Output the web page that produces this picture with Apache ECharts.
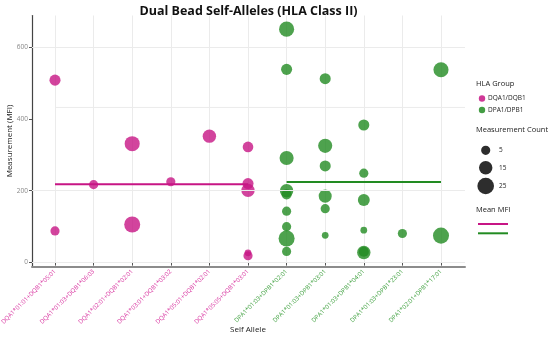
<!DOCTYPE html>
<html><head><meta charset="utf-8">
<script src="https://cdn.jsdelivr.net/npm/echarts@6/dist/echarts.min.js"></script>
<style>html,body{margin:0;padding:0;background:#fff}#c{width:550px;height:338px}</style>
</head><body><div id="c"></div>
<script>
// ---- data ----
const categories = [
  "DQA1*01:01+DQB1*05:01", "DQA1*01:03+DQB1*06:03", "DQA1*02:01+DQB1*02:01",
  "DQA1*03:01+DQB1*03:02", "DQA1*05:01+DQB1*02:01", "DQA1*05:05+DQB1*03:01",
  "DPA1*01:03+DPB1*02:01", "DPA1*01:03+DPB1*03:01", "DPA1*01:03+DPB1*04:01",
  "DPA1*01:03+DPB1*23:01", "DPA1*02:01+DPB1*17:01"
];
const categoryGroup = ["DQ","DQ","DQ","DQ","DQ","DQ","DP","DP","DP","DP","DP"];
const groupNames = ["DQA1/DQB1", "DPA1/DPB1"];

const dqCat   = [0, 0, 1, 2, 2, 3, 4, 5, 5, 5, 5, 5];
const dqMFI   = [508, 88, 217, 331, 106, 225, 352, 322, 220, 201, 27, 19];
const dqCount = [9, 5, 5, 20, 23, 5, 15, 8, 9, 15, 1, 5];

const dpCat   = [6, 6, 6, 6, 6, 6, 6, 6, 6, 7, 7, 7, 7, 7, 7, 8, 8, 8, 8, 8, 8, 9, 10, 10];
const dpMFI   = [650, 538, 291, 200, 190, 143, 100, 67, 31, 512, 325, 269, 185, 150, 76, 383, 249, 174, 90, 28, 30, 81, 537, 75];
const dpCount = [20, 9, 17, 15, 7, 5, 5, 23, 5, 9, 17, 9, 14, 5, 1, 9, 5, 11, 1, 15, 7, 5, 20, 23];

const meanDQ = 218;
const meanDP = 224;

const yTicks = [0, 200, 400, 600];
const gridY = [0, 200, 600];
const extraGridY = 432;
const sizeBreaks = [5, 15, 25];

// ---- style ----
const PINK = '#C71585', GREEN = '#228B22';
const FONT = 'Open Sans';
const sizeFn = c => 2 * Math.sqrt(9 + 2.4 * c);
const yMin = -11, yMax = 688;

const chart = echarts.init(document.getElementById('c'), null, {renderer: 'canvas'});

const pts = (cats, vals, cnts) => cats.map((c, i) => [categories[c], vals[i], cnts[i]]);

const legendX = 476;
const graphic = [
  {type:'text', x:248.5, y:11, style:{text:'Dual Bead Self-Alleles (HLA Class II)', font:'bold 12.5px "Open Sans"', fill:'#111', align:'center', verticalAlign:'middle'}},
  {type:'text', x:10, y:141, rotation:Math.PI/2, style:{text:'Measurement (MFI)', font:'8px "Open Sans"', fill:'#222', align:'center', verticalAlign:'middle'}},
  {type:'text', x:248, y:330, style:{text:'Self Allele', font:'8px "Open Sans"', fill:'#222', align:'center', verticalAlign:'middle'}},
  {type:'text', x:legendX, y:83.5, style:{text:'HLA Group', font:'7.5px "Open Sans"', fill:'#222', verticalAlign:'middle'}},
  {type:'circle', shape:{cx:482, cy:98.5, r:3.2}, style:{fill:PINK, opacity:0.85}},
  {type:'text', x:488, y:98.5, style:{text:groupNames[0], font:'6.5px "Open Sans"', fill:'#222', verticalAlign:'middle'}},
  {type:'circle', shape:{cx:482, cy:110, r:3.2}, style:{fill:GREEN, opacity:0.85}},
  {type:'text', x:488, y:110, style:{text:groupNames[1], font:'6.5px "Open Sans"', fill:'#222', verticalAlign:'middle'}},
  {type:'text', x:legendX, y:130, style:{text:'Measurement Count', font:'7.5px "Open Sans"', fill:'#222', verticalAlign:'middle'}},
  {type:'text', x:legendX, y:210, style:{text:'Mean MFI', font:'7.5px "Open Sans"', fill:'#222', verticalAlign:'middle'}},
  {type:'line', shape:{x1:478, y1:224, x2:508, y2:224}, style:{stroke:PINK, lineWidth:2}},
  {type:'line', shape:{x1:478, y1:233.3, x2:508, y2:233.3}, style:{stroke:GREEN, lineWidth:2}}
];
const sizeY = [150.3, 167.7, 186];
sizeBreaks.forEach((b, i) => {
  graphic.push({type:'circle', shape:{cx:485.7, cy:sizeY[i], r:sizeFn(b)/2}, style:{fill:'#222', opacity:0.95}});
  graphic.push({type:'text', x:499, y:sizeY[i], style:{text:String(b), font:'6.5px "Open Sans"', fill:'#222', verticalAlign:'middle'}});
});

const option = {
  animation: false,
  backgroundColor: '#fff',
  textStyle: {fontFamily: FONT},
  grid: [
    {left:32, right:85, top:15.5, bottom:71.5, containLabel:false, outerBoundsMode:'none'},
    {left:55, right:109, top:15.5, bottom:71.5, containLabel:false, outerBoundsMode:'none'}
  ],
  xAxis: [
    {gridIndex:0, type:'value', min:-0.6, max:10.6,
     axisLine:{show:true, onZero:false, lineStyle:{color:'#8c8c8c', width:2}},
     axisTick:{show:false}, axisLabel:{show:false}, splitLine:{show:false}},
    {gridIndex:1, type:'category', data:categories, boundaryGap:false,
     axisLine:{show:false}, axisTick:{show:true, length:3, lineStyle:{color:'#555'}},
     axisLabel:{rotate:45, fontSize:6.1, margin:4, fontFamily:FONT, hideOverlap:false,
       color:(v, i) => categoryGroup[i] === 'DQ' ? '#D8339F' : '#3FA03F'},
     splitLine:{show:true, lineStyle:{color:'#ebebeb', width:1}}}
  ],
  yAxis: [
    {gridIndex:0, type:'value', min:yMin, max:yMax,
     axisLine:{show:true, onZero:false, lineStyle:{color:'#444', width:1.2}},
     axisTick:{show:true, length:3, customValues:yTicks, lineStyle:{color:'#555'}},
     axisLabel:{show:true, customValues:yTicks, fontSize:6.5, color:'#888', margin:4, fontFamily:FONT},
     splitLine:{show:false}},
    {gridIndex:1, type:'value', min:yMin, max:yMax, show:false, splitLine:{show:false}}
  ],
  series: [
    {type:'line', xAxisIndex:0, yAxisIndex:0, data:[[0, extraGridY],[10.6, extraGridY]],
     symbol:'none', silent:true, lineStyle:{color:'#ebebeb', width:1}, z:1,
     markLine:{silent:true, symbol:['none','none'], label:{show:false},
       lineStyle:{color:'#ebebeb', width:1, type:'solid'},
       data: gridY.map(v => ({yAxis:v}))}},
    {name:groupNames[0], type:'scatter', xAxisIndex:1, yAxisIndex:1,
     data:pts(dqCat, dqMFI, dqCount), symbolSize:v => sizeFn(v[2]),
     itemStyle:{color:PINK, opacity:0.8}, z:3},
    {name:groupNames[1], type:'scatter', xAxisIndex:1, yAxisIndex:1,
     data:pts(dpCat, dpMFI, dpCount), symbolSize:v => sizeFn(v[2]),
     itemStyle:{color:GREEN, opacity:0.8}, z:3},
    {type:'line', xAxisIndex:1, yAxisIndex:1, symbol:'none',
     data:[[categories[0], meanDQ],[categories[5], meanDQ]],
     lineStyle:{color:PINK, width:2}, z:4},
    {type:'line', xAxisIndex:1, yAxisIndex:1, symbol:'none',
     data:[[categories[6], meanDP],[categories[10], meanDP]],
     lineStyle:{color:GREEN, width:2}, z:4}
  ],
  graphic: graphic
};
chart.setOption(option);
</script></body></html>
